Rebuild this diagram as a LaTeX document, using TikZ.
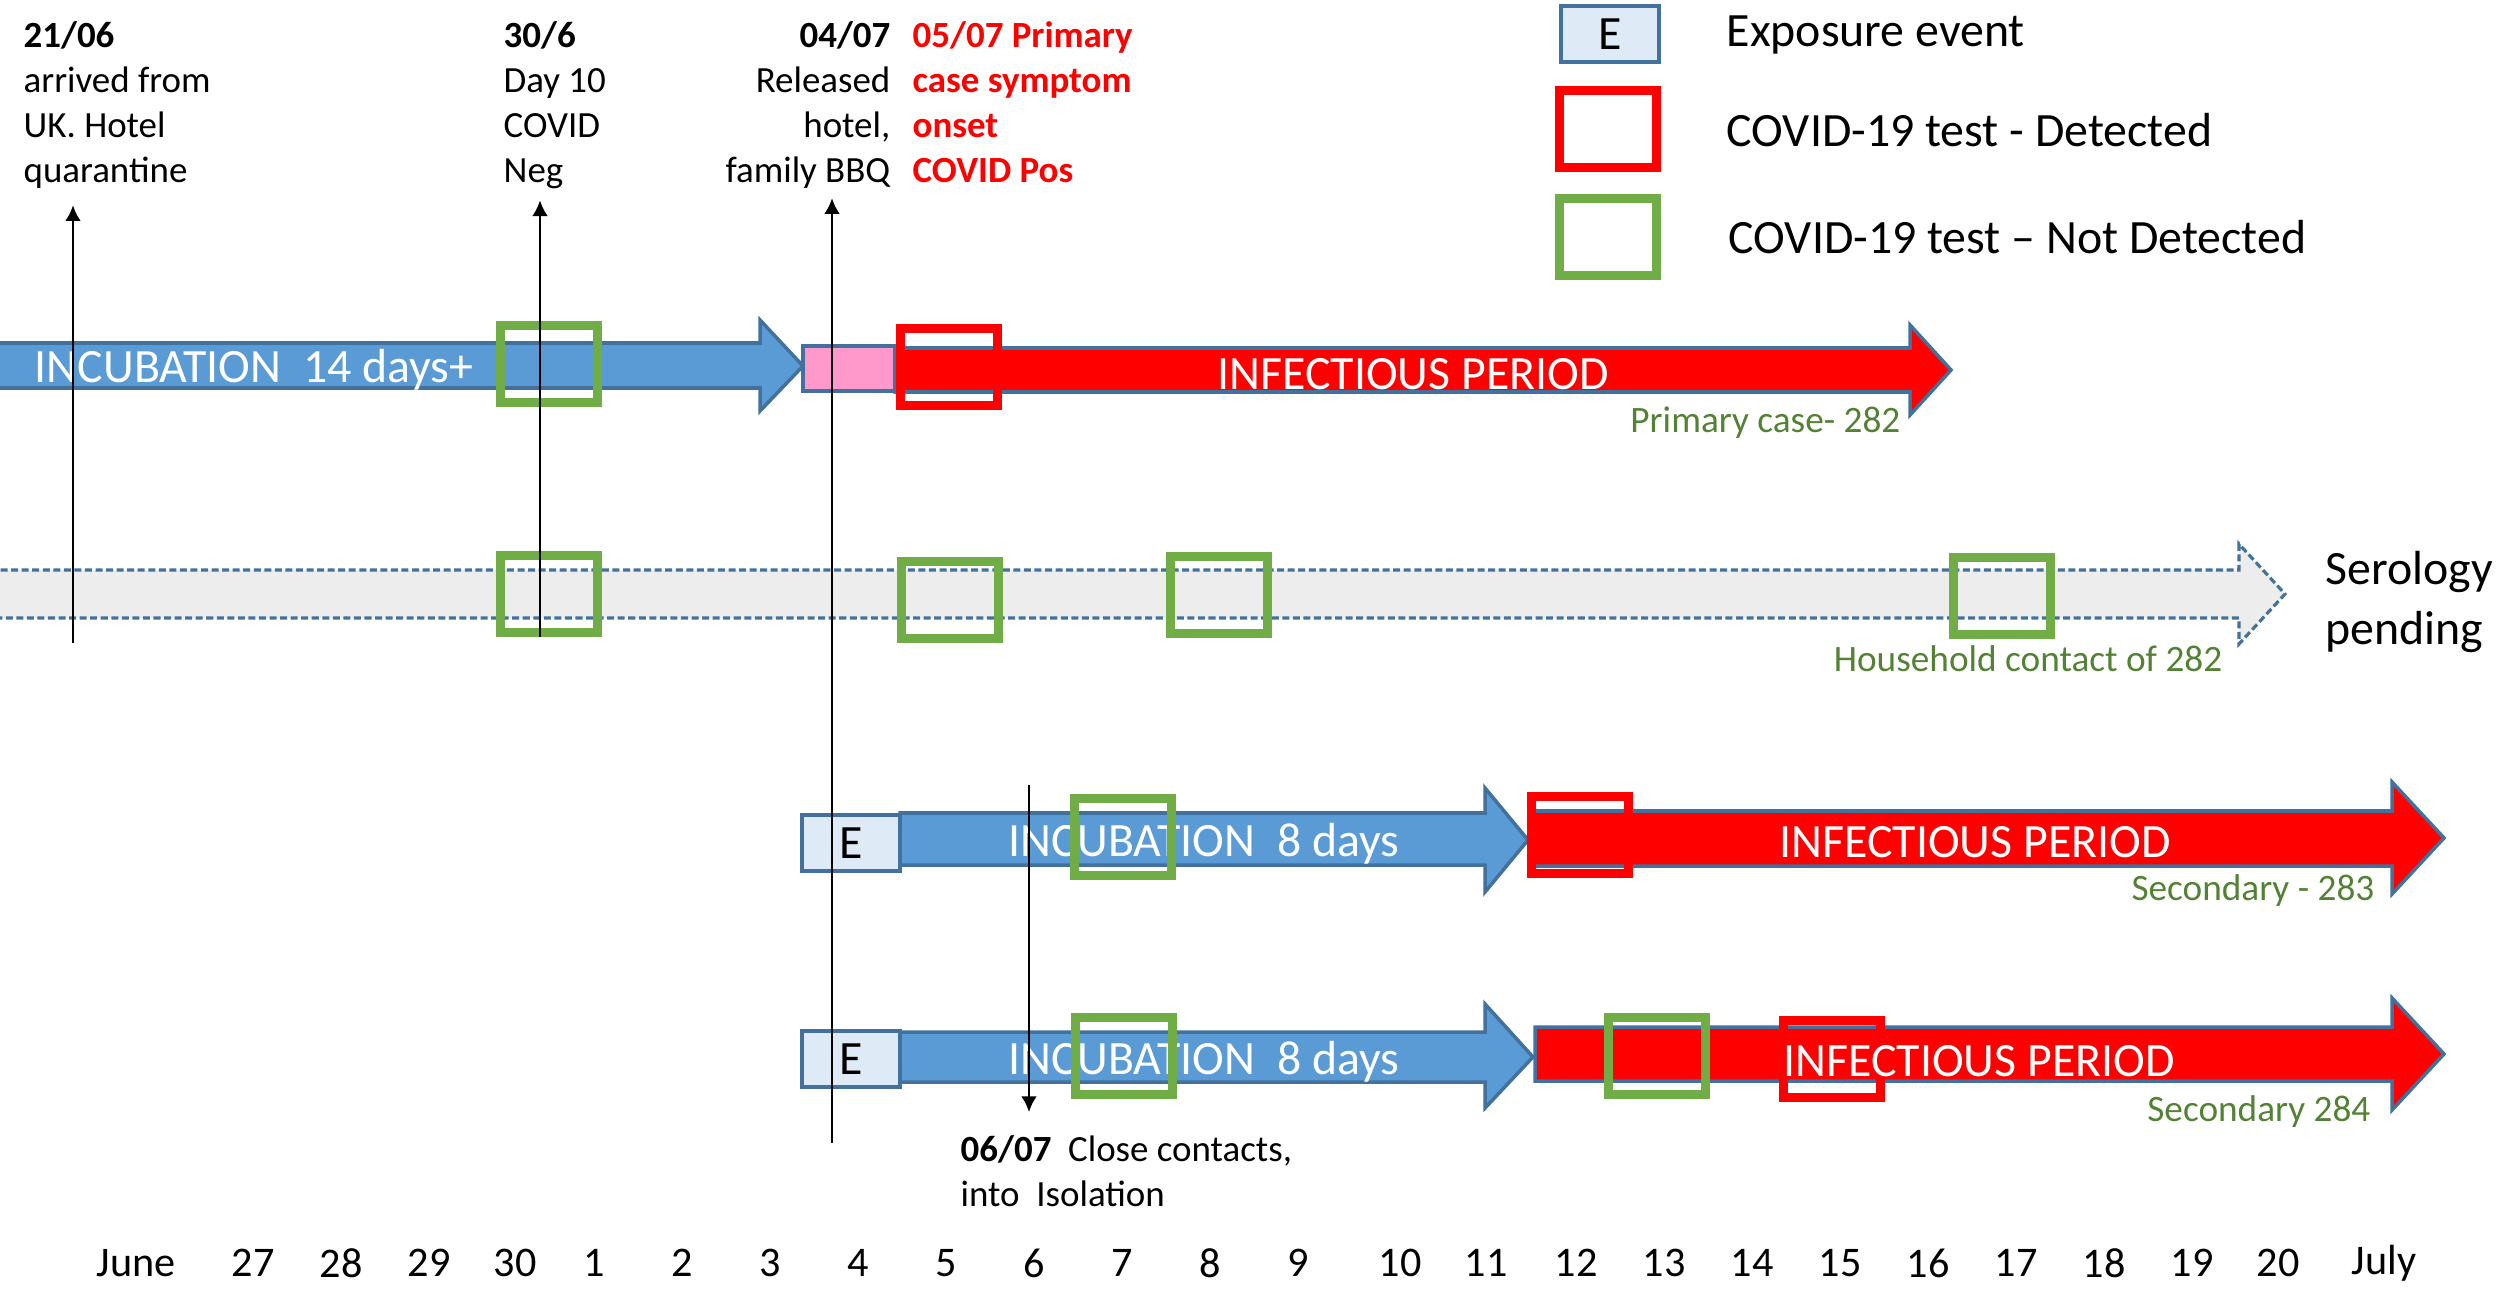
\documentclass[tikz,border=0pt]{standalone}
\usepackage{fontspec}
\setmainfont{Carlito}
\usepackage{tikz}
\usetikzlibrary{arrows.meta}
\definecolor{tlblue}{HTML}{5B9BD5}
\definecolor{tledge}{HTML}{41719C}
\definecolor{tlred}{HTML}{FF0000}
\definecolor{tlgreen}{HTML}{70AD47}
\definecolor{tlpink}{HTML}{FF99CC}
\definecolor{tlgrey}{HTML}{EDEDED}
\definecolor{tlpale}{HTML}{DEEBF7}
\definecolor{tltext}{HTML}{548235}
\begin{document}
\begin{tikzpicture}[
  x=0.01cm,y=-0.01cm,
  note/.style={font=\fontsize{10.5}{12.8}\selectfont,align=left,inner sep=0pt},
  big/.style={font=\fontsize{13.6}{17}\selectfont,inner sep=0pt},
  bar/.style={big,text=white},
  tag/.style={font=\fontsize{10.6}{12.8}\selectfont,text=tltext,inner sep=0pt},
  day/.style={font=\fontsize{12}{14}\selectfont,inner sep=0pt},
  incub/.style={fill=tlblue,draw=tledge,line width=1pt},
  infect/.style={fill=tlred,draw=tledge,line width=1pt},
  sero/.style={fill=tlgrey,draw=tledge,dash pattern=on 2pt off 1pt,line width=0.9pt},
  expo/.style={draw=tledge,fill=tlpale,line width=1pt,minimum width=0.98cm,minimum height=0.56cm,inner sep=0pt,font=\fontsize{13.6}{16}\selectfont},
  testpos/.style={draw=tlred,line width=2.6pt,minimum width=0.97cm,minimum height=0.77cm,inner sep=0pt},
  testneg/.style={draw=tlgreen,line width=2.6pt,minimum width=0.97cm,minimum height=0.77cm,inner sep=0pt},
  upar/.style={-{Latex[length=4.5pt,width=4.5pt]},line width=0.8pt},
]
\useasboundingbox (0,0) rectangle (2509,1297);
\draw[incub] (-10,343) -- (760,343) -- (760,320) -- (803,366) -- (760,411) -- (760,388) -- (-10,388) -- cycle;
\draw[fill=tlpink,draw=tledge,line width=1pt] (803,346) rectangle (895,391);
\draw[infect] (895,348) -- (1910,348) -- (1910,325) -- (1951,370) -- (1910,415) -- (1910,392) -- (895,392) -- cycle;
\draw[sero] (-10,570) -- (2239,570) -- (2239,544) -- (2285,594) -- (2239,644) -- (2239,618) -- (-10,618) -- cycle;
\draw[incub] (900,813) -- (1485,813) -- (1485,788) -- (1528,840) -- (1485,892) -- (1485,865) -- (900,865) -- cycle;
\draw[infect] (1533,811) -- (2392,811) -- (2392,782) -- (2444,838) -- (2392,894) -- (2392,866) -- (1533,866) -- cycle;
\draw[incub] (900,1032) -- (1485,1032) -- (1485,1004) -- (1533,1057) -- (1485,1108) -- (1485,1082) -- (900,1082) -- cycle;
\draw[infect] (1535,1027) -- (2392,1027) -- (2392,998) -- (2444,1054) -- (2392,1110) -- (2392,1081) -- (1535,1081) -- cycle;
\node[note,anchor=north west] (a21) at (23,21) {\textbf{21/06}\\arrived from\\UK. Hotel\\quarantine};
\node[note,anchor=north west] (a30) at (503,21) {\textbf{30/6}\\Day 10\\COVID\\Neg};
\node[note,align=right,anchor=north east] (a04) at (891,21) {\textbf{04/07}\\Released\\hotel,\\family BBQ};
\node[note,text=tlred,font=\fontsize{10.5}{12.8}\selectfont\bfseries,anchor=north west] (a05) at (912,21) {05/07 Primary\\case symptom\\onset\\COVID Pos};
\node[note,anchor=north west] (a06) at (960,1135) {\textbf{06/07}\ \ Close contacts,\\into\ \ Isolation};
\node[expo] (le) at (1610,34) {E};
\node[testpos] (lpos) at (1608,129) {};
\node[testneg] (lneg) at (1608,237) {};
\node[big,anchor=west] (lte) at (1726,35) {Exposure event};
\node[big,anchor=west] (ltp) at (1726,130) {COVID-19 test - Detected};
\node[big,anchor=west] (ltn) at (1728,237) {COVID-19 test -- Not Detected};
\node[bar] (incA) at (254,370) {INCUBATION\ \ 14 days+};
\node[bar] (infA) at (1413,374) {INFECTIOUS PERIOD};
\node[tag,anchor=east] (tagA) at (1901,423) {Primary case- 282};
\node[tag,anchor=east] (tagB) at (2223,659) {Household contact of 282};
\node[big,align=left,anchor=west] (sero) at (2325,602) {Serology\\pending};
\node[expo] (eC) at (851,843) {E};
\node[bar] (incC) at (1204,844) {INCUBATION\ \ 8 days};
\node[bar] (infC) at (1975,842) {INFECTIOUS PERIOD};
\node[tag,anchor=east] (tagC) at (2375,891) {Secondary - 283};
\node[expo] (eD) at (851,1059) {E};
\node[bar] (incD) at (1204,1062) {INCUBATION\ \ 8 days};
\node[tag,anchor=east] (tagD) at (2371,1112) {Secondary 284};
\node[testneg] (tA1) at (549,364) {};
\node[testpos] (tA2) at (949,367) {};
\node[testneg] (tB1) at (549,594) {};
\node[testneg] (tB2) at (950,600) {};
\node[testneg] (tB3) at (1219,595) {};
\node[testneg] (tB4) at (2002,596) {};
\node[testneg] (tC1) at (1123,837) {};
\node[testpos] (tC2) at (1580,835) {};
\node[testneg] (tD1) at (1124,1056) {};
\node[testneg] (tD2) at (1657,1056) {};
\node[testpos] (tD3) at (1832,1059) {};
\node[bar] (infD) at (1979,1061) {INFECTIOUS PERIOD};
\coordinate (f21) at (73,643);
\coordinate (f30) at (540,637);
\coordinate (f04) at (832,1143);
\coordinate (f06) at (1029,785);
\draw[upar,shorten >=4.5pt] (f21) -- (a21.south -| f21);
\draw[upar,shorten >=3pt] (f30) -- (a30.south -| f30);
\draw[upar,shorten >=2.5pt] (f04) -- (a04.south -| f04);
\draw[upar,shorten >=6.5pt] (f06) -- (a06.north -| f06);
\node[day] (dJune) at (136,1263) {June};
\node[day] (d27) at (253,1263) {27};
\node[day] (d28) at (341,1263) {28};
\node[day] (d29) at (429,1263) {29};
\node[day] (d30) at (515,1263) {30};
\node[day] (d1) at (594,1263) {1};
\node[day] (d2) at (682,1263) {2};
\node[day] (d3) at (770,1263) {3};
\node[day] (d4) at (858,1263) {4};
\node[day] (d5) at (946,1263) {5};
\node[day] (d6) at (1034,1263) {6};
\node[day] (d7) at (1122,1263) {7};
\node[day] (d8) at (1210,1263) {8};
\node[day] (d9) at (1298,1263) {9};
\node[day] (d10) at (1400,1263) {10};
\node[day] (d11) at (1486,1263) {11};
\node[day] (d12) at (1576,1263) {12};
\node[day] (d13) at (1664,1263) {13};
\node[day] (d14) at (1752,1263) {14};
\node[day] (d15) at (1840,1263) {15};
\node[day] (d16) at (1928,1263) {16};
\node[day] (d17) at (2016,1263) {17};
\node[day] (d18) at (2104,1263) {18};
\node[day] (d19) at (2192,1263) {19};
\node[day] (d20) at (2278,1263) {20};
\node[day] (dJuly) at (2384,1263) {July};
\end{tikzpicture}
\end{document}
